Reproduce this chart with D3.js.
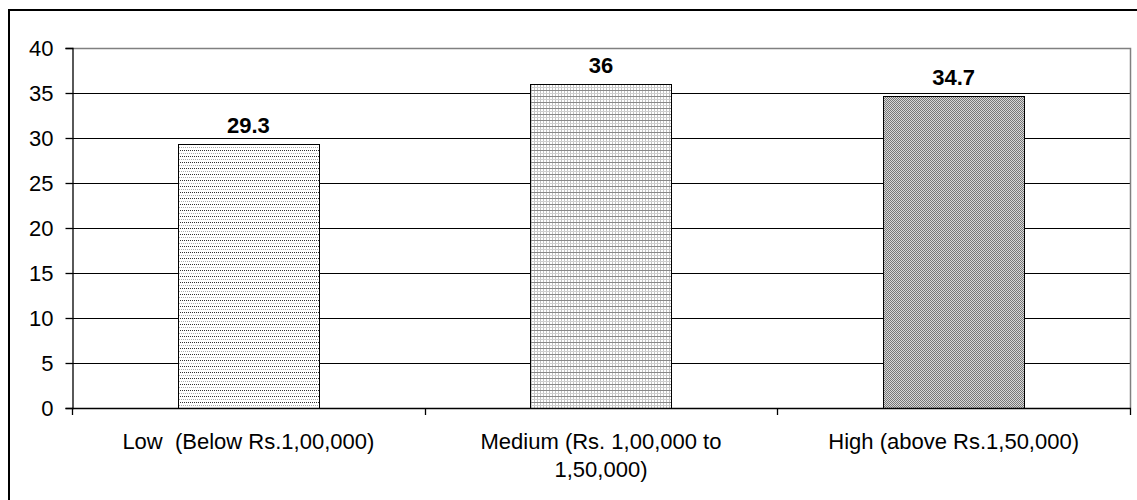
<!DOCTYPE html>
<html>
<head>
<meta charset="utf-8">
<script src="https://cdn.jsdelivr.net/npm/d3@7"></script>
<style>
  html, body { margin: 0; padding: 0; background: #fff; }
  svg { display: block; font-family: "Liberation Sans", Arial, sans-serif; }
</style>
</head>
<body>
<svg id="chart" width="1137" height="500"></svg>
<script>
// Share of respondents by income group
const categories = ["Low  (Below Rs.1,00,000)", "Medium (Rs. 1,00,000 to|1,50,000)", "High (above Rs.1,50,000)"];
const values = [29.3, 36, 34.7];
const valueLabels = ["29.3", "36", "34.7"];
const yTicks = [0, 5, 10, 15, 20, 25, 30, 35, 40];

const svg = d3.select("#chart");
const plot = { left: 72, top: 48, right: 1130, bottom: 408 };
const FONT = 22;

// Hatch fills for the three bars
const defs = svg.append("defs");
function pattern(id, w, h, cells, bg) {
  const p = defs.append("pattern").attr("id", id)
    .attr("patternUnits", "userSpaceOnUse").attr("width", w).attr("height", h);
  p.append("rect").attr("width", w).attr("height", h).attr("fill", bg);
  cells.forEach(c => p.append("rect").attr("x", c[0]).attr("y", c[1])
    .attr("width", c[2]).attr("height", c[3]).attr("fill", c[4]));
}
// dotted rows
pattern("pLow", 4, 6, [
  [0, 0, 1, 1, "#333"], [2, 0, 1, 1, "#333"],
  [1, 3, 1, 1, "#aaa"], [3, 3, 1, 1, "#aaa"]
], "#fff");
// fine grid
pattern("pMed", 3, 6, [
  [0, 0, 1, 6, "#c4c4c4"],
  [0, 0, 3, 1, "#888"],
  [0, 3, 3, 1, "#cfcfcf"]
], "#fff");
// checker
pattern("pHigh", 2, 2, [
  [0, 0, 1, 1, "#777"], [1, 1, 1, 1, "#777"],
  [1, 0, 1, 1, "#d8d8d8"], [0, 1, 1, 1, "#d8d8d8"]
], "#fff");
const fills = ["url(#pLow)", "url(#pMed)", "url(#pHigh)"];

// Outer frame
svg.append("rect").attr("x", 9).attr("y", 10).attr("width", 1140).attr("height", 500)
  .attr("fill", "none").attr("stroke", "#000").attr("stroke-width", 2);

const x = d3.scaleBand().domain(categories).range([plot.left, plot.right]).paddingInner(0).paddingOuter(0);
const y = d3.scaleLinear().domain([0, 40]).range([plot.bottom, plot.top]);
const barW = x.bandwidth() * 0.4;

// Gridlines
svg.append("g").selectAll("line").data(yTicks.filter(t => t > 0 && t < 40)).join("line")
  .attr("x1", plot.left).attr("x2", plot.right)
  .attr("y1", d => Math.round(y(d)) + 0.5).attr("y2", d => Math.round(y(d)) + 0.5)
  .attr("stroke", "#000").attr("stroke-width", 1);

// Plot area border (top and right)
svg.append("path")
  .attr("d", `M${plot.left},${plot.top + 0.5}H${plot.right + 0.5}V${plot.bottom}`)
  .attr("fill", "none").attr("stroke", "#808080").attr("stroke-width", 1.5);

// Bars
svg.append("g").selectAll("rect").data(values).join("rect")
  .attr("x", (d, i) => Math.round(x(categories[i]) + (x.bandwidth() - barW) / 2) + 0.5)
  .attr("y", d => Math.round(y(d)) + 0.5)
  .attr("width", Math.round(barW))
  .attr("height", d => Math.round(y(0)) - Math.round(y(d)))
  .attr("fill", (d, i) => fills[i])
  .attr("stroke", "#000").attr("stroke-width", 1.3)
  .attr("shape-rendering", "crispEdges");

// Y axis
const yAxis = d3.axisLeft(y).tickValues(yTicks).tickSize(7).tickPadding(12).tickFormat(d3.format("d"));
const gy = svg.append("g").attr("transform", `translate(${plot.left + 0.5},0)`).call(yAxis);
gy.select(".domain").attr("stroke", "#000").attr("stroke-width", 1.3);
gy.selectAll(".tick line").attr("stroke", "#000").attr("stroke-width", 1.3);
gy.selectAll(".tick text").attr("font-size", FONT).attr("fill", "#000")
  .attr("font-family", "'Liberation Sans', Arial, sans-serif");

// X axis line with category boundary ticks
svg.append("line").attr("x1", plot.left).attr("x2", plot.right + 1)
  .attr("y1", plot.bottom + 0.5).attr("y2", plot.bottom + 0.5)
  .attr("stroke", "#000").attr("stroke-width", 1.3);
const bounds = categories.map(c => x(c)).concat([plot.right]);
svg.append("g").selectAll("line").data(bounds).join("line")
  .attr("x1", d => Math.round(d) + 0.5).attr("x2", d => Math.round(d) + 0.5)
  .attr("y1", plot.bottom).attr("y2", plot.bottom + 7)
  .attr("stroke", "#000").attr("stroke-width", 1.3);

// Category labels
svg.append("g").selectAll("text").data(categories).join("text")
  .attr("x", d => x(d) + x.bandwidth() / 2)
  .attr("y", 449)
  .attr("text-anchor", "middle").attr("font-size", FONT).attr("fill", "#000")
  .style("white-space", "pre")
  .each(function (d) {
    const lines = d.split("|");
    const t = d3.select(this);
    lines.forEach((ln, i) => t.append("tspan")
      .attr("x", x(d) + x.bandwidth() / 2).attr("dy", i === 0 ? 0 : 28).text(ln));
  });

// Value labels
svg.append("g").selectAll("text").data(values).join("text")
  .attr("x", (d, i) => x(categories[i]) + x.bandwidth() / 2)
  .attr("y", d => y(d) - 11)
  .attr("text-anchor", "middle").attr("font-size", FONT).attr("font-weight", "bold").attr("fill", "#000")
  .text((d, i) => valueLabels[i]);
</script>
</body>
</html>
